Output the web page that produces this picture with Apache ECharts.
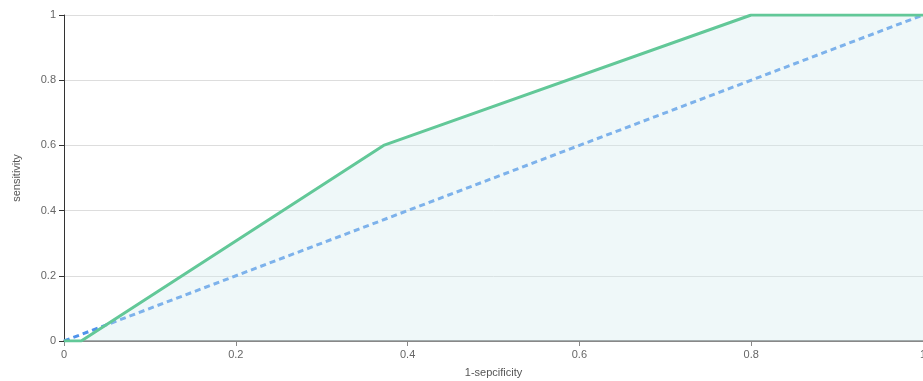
<!DOCTYPE html>
<html>
<head>
<meta charset="utf-8">
<script src="https://cdn.jsdelivr.net/npm/echarts@6/dist/echarts.min.js"></script>
<style>
  html, body { margin: 0; padding: 0; background: #fff; }
  #chart { width: 923px; height: 381px; }
</style>
</head>
<body>
<div id="chart"></div>
<script>
// ROC curve points [1-specificity, sensitivity]
const rocPoints = [[0, 0], [0.02, 0], [0.372, 0.6], [0.8, 1], [1, 1]];
// reference diagonal
const diagonalPoints = [[0, 0], [1, 1]];

const chart = echarts.init(document.getElementById("chart"));

const labelColor = "#666";

chart.setOption({
  animation: false,
  grid: { left: 64, right: 0, top: 15, bottom: 40, outerBoundsMode: "none" },
  xAxis: {
    type: "value",
    min: 0,
    max: 1,
    interval: 0.2,
    name: "1-sepcificity",
    nameLocation: "middle",
    nameGap: 26,
    nameTextStyle: { color: "#555", fontSize: 11 },
    axisLine: { show: true, lineStyle: { color: "#888", width: 2 } },
    axisTick: { show: true, lineStyle: { color: "#888" } },
    axisLabel: { color: labelColor, fontSize: 11 },
    splitLine: { show: false },
  },
  yAxis: {
    type: "value",
    min: 0,
    max: 1,
    interval: 0.2,
    name: "sensitivity",
    nameLocation: "middle",
    nameGap: 42,
    nameTextStyle: { color: "#555", fontSize: 11 },
    axisLine: { show: true, lineStyle: { color: "#333" } },
    axisTick: { show: true, lineStyle: { color: "#333" } },
    axisLabel: { color: labelColor, fontSize: 11 },
    splitLine: { lineStyle: { color: "#ddd" } },
  },
  series: [
    {
      type: "line",
      data: rocPoints,
      symbol: "none",
      lineStyle: { color: "#62c898", width: 3 },
      areaStyle: { color: "rgba(210,236,238,0.5)" },
      z: 3,
    },
    {
      type: "line",
      data: diagonalPoints,
      symbol: "none",
      lineStyle: { color: "#4f93ea", width: 3, type: [6, 4], opacity: 1 },
      z: 2,
    },
  ],
});
</script>
</body>
</html>
